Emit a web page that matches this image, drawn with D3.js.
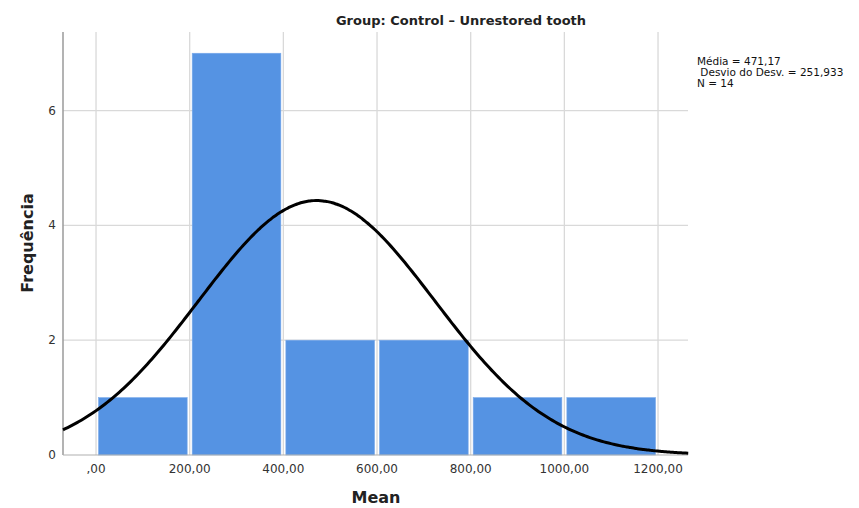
<!DOCTYPE html>
<html>
<head>
<meta charset="utf-8">
<script src="https://cdn.jsdelivr.net/npm/d3@7"></script>
<style>
  body { margin: 0; background: #fff; }
  svg { font-family: "DejaVu Sans", sans-serif; }
  .tick-label { fill: #333; font-size: 12px; }
  .stat { fill: #111; font-size: 10.5px; }
</style>
</head>
<body>
<svg id="chart" width="859" height="508"></svg>
<script>
// histogram bins and counts
var binEdges = [0, 200, 400, 600, 800, 1000, 1200];
var counts = [1, 7, 2, 2, 1, 1];
var xTicks = [0, 200, 400, 600, 800, 1000, 1200];
var xTickLabels = [",00", "200,00", "400,00", "600,00", "800,00", "1000,00", "1200,00"];
var yTicks = [0, 2, 4, 6];
// fitted normal
var mean = 471.17;
var sd = 251.933;
var n = 14;
var statLines = ["Média = 471,17", " Desvio do Desv. = 251,933", "N = 14"];

var svg = d3.select("#chart");
var plotLeft = 63, plotRight = 688, plotTop = 32, plotBottom = 455;

var x = d3.scaleLinear().domain([-70.5, 1264]).range([plotLeft, plotRight]);
var y = d3.scaleLinear().domain([0, 7.37]).range([plotBottom, plotTop]);

// grid
svg.append("g")
    .selectAll("line")
    .data(xTicks)
    .enter().append("line")
    .attr("x1", function(d) { return x(d); })
    .attr("x2", function(d) { return x(d); })
    .attr("y1", plotTop)
    .attr("y2", plotBottom)
    .attr("stroke", "#d9d9d9")
    .attr("stroke-width", 1.3);

svg.append("g")
    .selectAll("line")
    .data(yTicks.filter(function(d) { return d > 0; }))
    .enter().append("line")
    .attr("x1", plotLeft)
    .attr("x2", plotRight)
    .attr("y1", function(d) { return y(d); })
    .attr("y2", function(d) { return y(d); })
    .attr("stroke", "#d9d9d9")
    .attr("stroke-width", 1.3);

// bars
svg.append("g")
    .selectAll("rect")
    .data(counts)
    .enter().append("rect")
    .attr("x", function(d, i) { return x(binEdges[i]) + 2.5; })
    .attr("width", function(d, i) { return x(binEdges[i + 1]) - x(binEdges[i]) - 5; })
    .attr("y", function(d) { return y(d); })
    .attr("height", function(d) { return y(0) - y(d); })
    .attr("fill", "#5593e3")
    .attr("stroke", "#7aaaea")
    .attr("stroke-width", 0.6);

// axes lines
svg.append("line")
    .attr("x1", plotLeft).attr("x2", plotLeft)
    .attr("y1", plotTop).attr("y2", plotBottom)
    .attr("stroke", "#9a9a9a").attr("stroke-width", 1.5);
svg.append("line")
    .attr("x1", plotLeft).attr("x2", plotRight)
    .attr("y1", plotBottom).attr("y2", plotBottom)
    .attr("stroke", "#b0b0b0").attr("stroke-width", 1.2);

// normal curve
var binWidth = binEdges[1] - binEdges[0];
var peak = n * binWidth / (sd * Math.sqrt(2 * Math.PI));
var curveX = d3.range(x.domain()[0], x.domain()[1] + 1, 5);
var line = d3.line()
    .x(function(d) { return x(d); })
    .y(function(d) { var z = (d - mean) / sd; return y(peak * Math.exp(-0.5 * z * z)); })
    .curve(d3.curveBasis);
svg.append("path")
    .datum(curveX)
    .attr("d", line)
    .attr("fill", "none")
    .attr("stroke", "#000")
    .attr("stroke-width", 3);

// tick labels
svg.append("g")
    .selectAll("text")
    .data(xTicks)
    .enter().append("text")
    .attr("class", "tick-label")
    .attr("x", function(d) { return x(d); })
    .attr("y", 473)
    .attr("text-anchor", "middle")
    .text(function(d, i) { return xTickLabels[i]; });

svg.append("g")
    .selectAll("text")
    .data(yTicks)
    .enter().append("text")
    .attr("class", "tick-label")
    .attr("x", 56)
    .attr("y", function(d) { return y(d) + 4; })
    .attr("text-anchor", "end")
    .text(function(d) { return d; });

// titles
svg.append("text")
    .attr("x", 461)
    .attr("y", 25)
    .attr("text-anchor", "middle")
    .attr("font-size", "13px")
    .attr("font-weight", "bold")
    .attr("fill", "#222")
    .text("Group: Control – Unrestored tooth");

svg.append("text")
    .attr("x", 376)
    .attr("y", 503)
    .attr("text-anchor", "middle")
    .attr("font-size", "16px")
    .attr("font-weight", "bold")
    .attr("fill", "#222")
    .text("Mean");

svg.append("text")
    .attr("transform", "translate(33,243) rotate(-90)")
    .attr("text-anchor", "middle")
    .attr("font-size", "16px")
    .attr("font-weight", "bold")
    .attr("fill", "#222")
    .text("Frequência");

// stats box
svg.append("g")
    .selectAll("text")
    .data(statLines)
    .enter().append("text")
    .attr("class", "stat")
    .attr("x", 697)
    .attr("y", function(d, i) { return 65 + i * 11; })
    .attr("xml:space", "preserve")
    .style("white-space", "pre")
    .text(function(d) { return d; });
</script>
</body>
</html>
